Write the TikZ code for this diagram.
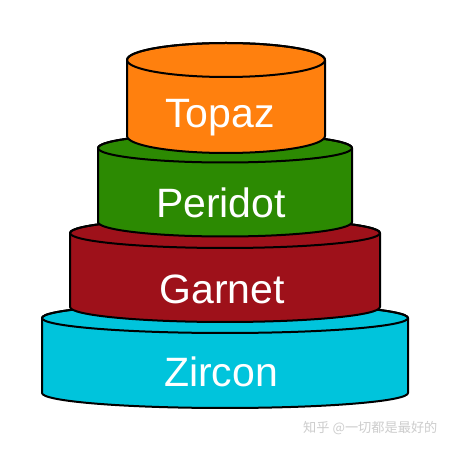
\documentclass[tikz,border=0pt]{standalone}
\usepackage{fontspec}
\setmainfont{Liberation Sans}
\newfontfamily\cjkfont{Noto Sans CJK SC}
\definecolor{topazc}{RGB}{255,128,14}
\definecolor{peridotc}{RGB}{44,138,2}
\definecolor{garnetc}{RGB}{158,17,26}
\definecolor{zirconc}{RGB}{0,196,220}
\definecolor{wmark}{RGB}{205,205,205}
\tikzset{
  layer/.style={draw=black, line width=2pt, line join=round},
  lab/.style={text=white, font=\fontsize{41}{44}\selectfont, inner sep=0pt},
}
% #1 cx, #2 rx, #3 top y, #4 bottom y, #5 ry, #6 colour
\newcommand\cakelayer[6]{%
  \path[layer, fill=#6] (#1-#2, #3) -- (#1-#2, #4)
    arc[start angle=180, end angle=360, x radius=#2pt, y radius=#5pt]
    -- (#1+#2, #3)
    arc[start angle=0, end angle=180, x radius=#2pt, y radius=#5pt] -- cycle;
  \draw[layer] (#1, #3) ellipse[x radius=#2pt, y radius=#5pt];
}
\begin{document}
\begin{tikzpicture}[x=1pt,y=1pt]
\useasboundingbox (0,0) rectangle (450,450);
\fill[white] (0,0) rectangle (450,450);
\cakelayer{225}{183}{132}{57}{15}{zirconc}
\cakelayer{225}{155}{217}{143}{15}{garnetc}
\cakelayer{225}{127}{302}{228}{14.5}{peridotc}
\cakelayer{226}{99}{390}{314}{17}{topazc}
\node[lab] (zircon) at (221,78) {Zircon};
\node[lab] (garnet) at (222,161) {Garnet};
\node[lab] (peridot) at (221,247) {Peridot};
\node[lab] (topaz) at (220,332) {Topaz};
\node[text=wmark, font=\cjkfont\fontsize{13.2}{15}\selectfont, inner sep=0pt, anchor=west] (wm) at (303,22) {知乎 @一切都是最好的};
\end{tikzpicture}
\end{document}
